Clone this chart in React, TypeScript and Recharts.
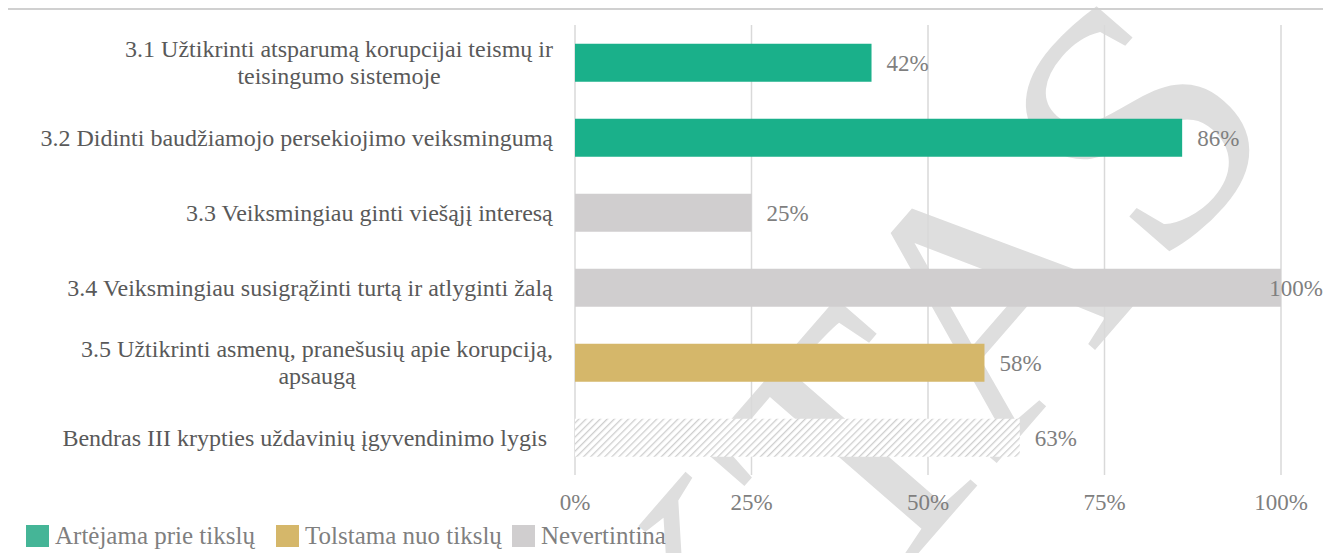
import { BarChart, Bar, XAxis, YAxis, CartesianGrid, Cell, LabelList, Legend } from "recharts";

const CATEGORIES = [
  "3.1 Užtikrinti atsparumą korupcijai teismų ir\nteisingumo sistemoje",
  "3.2 Didinti baudžiamojo persekiojimo veiksmingumą",
  "3.3 Veiksmingiau ginti viešąjį interesą",
  "3.4 Veiksmingiau susigrąžinti turtą ir atlyginti žalą",
  "3.5 Užtikrinti asmenų, pranešusių apie korupciją,\napsaugą",
  "Bendras III krypties uždavinių įgyvendinimo lygis\u00a0",
];
const VALUES = [42, 86, 25, 100, 58, 63];
const STATUS = ["artejama", "artejama", "nevertintina", "nevertintina", "tolstama", "bendras"];
const X_TICKS = [0, 25, 50, 75, 100];
const LEGEND_KEYS = ["artejama", "tolstama", "nevertintina"];
const LEGEND_LABELS = ["Artėjama prie tikslų", "Tolstama nuo tikslų", "Nevertintina"];

const W = 1323;
const H = 553;
const SERIF = '"Liberation Serif", "Times New Roman", serif';

const STATUS_FILL: Record<string, string> = {
  artejama: "#1ab08a",
  tolstama: "#d5b76a",
  nevertintina: "#d0cecf",
  bendras: "url(#hatch)",
};
const LEGEND_FILL: Record<string, string> = {
  artejama: "#45b597",
  tolstama: "#d5b76a",
  nevertintina: "#d0cecf",
};
const LEGEND_LEFT = [26, 276, 512];

const data = CATEGORIES.map((name, i) => ({ name, value: VALUES[i], status: STATUS[i] }));

let ctx: CanvasRenderingContext2D | null = null;
function measure(text: string, font: string) {
  if (!ctx) ctx = document.createElement("canvas").getContext("2d");
  if (!ctx) return text.length * 10;
  ctx.font = font;
  return ctx.measureText(text).width;
}

function CategoryTick({ x, y, payload }: any) {
  const lines = String(payload.value).split("\n");
  const font = `24px "Liberation Serif"`;
  const widest = Math.max(...lines.map((l) => measure(l, font)));
  const cx = x - 22 - widest / 2;
  const lh = 27;
  const y0 = y - ((lines.length - 1) * lh) / 2;
  return (
    <text textAnchor="middle" fill="#595959" fontSize={24} fontFamily={SERIF}>
      {lines.map((l, i) => (
        <tspan key={i} x={cx} y={y0 + i * lh} dy="0.35em">
          {l}
        </tspan>
      ))}
    </text>
  );
}

function ValueLabel({ x, y, width, height, value }: any) {
  const text = `${value}%`;
  const w = measure(text, `23px "Liberation Serif"`);
  let tx = x + width + 15;
  if (tx + w > W) tx = W - w;
  return (
    <text x={tx} y={y + height / 2} dy="0.38em" fill="#7f7f7f" fontSize={23} fontFamily={SERIF}>
      {text}
    </text>
  );
}

function LegendBox() {
  return (
    <div style={{ position: "relative", height: 38 }}>
      {LEGEND_KEYS.map((k, i) => (
        <div
          key={k}
          style={{ position: "absolute", left: LEGEND_LEFT[i], top: 7, display: "flex", alignItems: "center" }}
        >
          <span style={{ width: 23, height: 22, background: LEGEND_FILL[k], display: "inline-block" }} />
          <span style={{ marginLeft: 6, fontFamily: SERIF, fontSize: 25, lineHeight: "28px", color: "#7f7f7f", whiteSpace: "nowrap" }}>
            {LEGEND_LABELS[i]}
          </span>
        </div>
      ))}
    </div>
  );
}

export default function App() {
  return (
    <div style={{ position: "absolute", left: 0, top: 0, width: W, height: H, overflow: "hidden", background: "#fff" }}>
      {/* watermark behind the chart; also holds the hatch pattern */}
      <svg width={W} height={H} style={{ position: "absolute", left: 0, top: 0 }}>
        <defs>
          <pattern id="hatch" patternUnits="userSpaceOnUse" width={5} height={5} patternTransform="rotate(45)">
            <rect width={5} height={5} fill="#ffffff" />
            <line x1={0} y1={0} x2={0} y2={5} stroke="#cfcfcf" strokeWidth={2.6} />
          </pattern>
        </defs>
        <text
          x={1288}
          y={128}
          textAnchor="end"
          fontFamily={SERIF}
          fontSize={350}
          fill="#dedede"
          transform="rotate(-49 1288 128)"
        >
          PROJEKTAS
        </text>
      </svg>
      <div style={{ position: "absolute", left: 8, top: 8, width: W - 8, height: 2, background: "#d0d0d0" }} />
      <div style={{ position: "absolute", left: 0, top: 0 }}>
        <BarChart
          width={W}
          height={H}
          data={data}
          layout="vertical"
          margin={{ top: 25, right: 42, bottom: 0, left: 0 }}
          barCategoryGap="25%"
        >
          <CartesianGrid horizontal={false} stroke="#d9d9d9" strokeWidth={1.5} />
          <XAxis
            type="number"
            domain={[0, 100]}
            ticks={X_TICKS}
            tickFormatter={(v) => `${v}%`}
            axisLine={false}
            tickLine={false}
            tickSize={0}
            tickMargin={19}
            tick={{ fill: "#7f7f7f", fontSize: 23, fontFamily: SERIF }}
            height={40}
          />
          <YAxis
            type="category"
            dataKey="name"
            width={575}
            axisLine={false}
            tickLine={false}
            tickSize={0}
            tickMargin={0}
            interval={0}
            tick={(p: any) => <CategoryTick {...p} />}
          />
          <Legend
            verticalAlign="bottom"
            align="left"
            wrapperStyle={{ left: 0, width: 700, height: 38 }}
            content={() => <LegendBox />}
          />
          <Bar dataKey="value" isAnimationActive={false}>
            {data.map((d, i) => (
              <Cell key={i} fill={STATUS_FILL[d.status]} />
            ))}
            <LabelList dataKey="value" content={(p: any) => <ValueLabel {...p} />} />
          </Bar>
        </BarChart>
      </div>
    </div>
  );
}
